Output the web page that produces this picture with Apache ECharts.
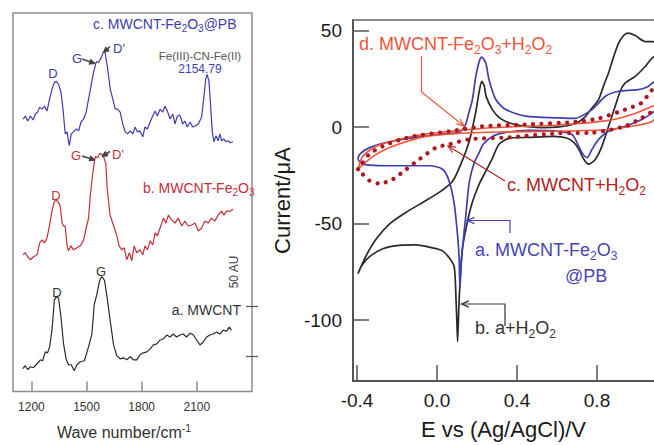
<!DOCTYPE html>
<html><head><meta charset="utf-8">
<script src="https://cdn.jsdelivr.net/npm/echarts@6/dist/echarts.min.js"></script>
<style>html,body{margin:0;padding:0;background:#fff}#c{width:654px;height:445px}</style>
</head><body><div id="c"></div>
<script>
// ---------- Raman spectra (left panel) ----------
const waveTicks = [1200, 1500, 1800, 2100];
const scaleBarTicks = [36, 86];   // 50 AU scale bar

const ramanA_wave = [1153,1167,1180,1195,1212,1231,1249,1261,1276,1288,1299,1312,1325,1336,1348,1361,1375,1390,1402,1417,1433,1448,1466,1488,1511,1529,1542,1556,1571,1584,1598,1614,1632,1647,1665,1683,1701,1719,1737,1755,1773,1791,1809,1828,1846,1864,1882,1900,1918,1936,1954,1972,1990,2008,2026,2044,2063,2081,2099,2117,2135,2153,2171,2189,2207,2225,2243,2262,2276,2289];
const ramanA_int = [23,26,22,25,24,28,32,31,40,39,45,62,92,96,94,75,48,32,27,27,21,27,30,31,45,58,88,98,112,116,112,92,67,47,36,33,34,32,35,32,32,37,39,40,43,47,48,52,53,57,55,58,55,57,58,55,59,57,52,47,50,55,57,58,60,58,62,61,65,62];

const ramanB_wave = [1155,1167,1180,1195,1212,1231,1245,1258,1271,1285,1299,1312,1325,1336,1348,1357,1367,1375,1384,1394,1402,1415,1429,1448,1466,1484,1498,1511,1520,1535,1547,1560,1571,1589,1605,1612,1628,1646,1665,1677,1692,1705,1719,1733,1746,1759,1773,1791,1806,1818,1831,1846,1860,1873,1885,1900,1918,1932,1945,1963,1981,1999,2018,2035,2053,2072,2090,2108,2126,2144,2162,2180,2198,2216,2235,2247,2262,2280,2297];
const ramanB_int = [138,140,136,133,136,138,150,153,150,155,168,182,192,193,191,187,170,167,167,147,142,147,143,145,147,153,165,175,197,222,237,236,240,239,230,205,178,168,157,147,143,145,133,140,132,147,140,143,138,147,143,152,148,160,157,165,175,170,178,173,170,175,167,172,167,168,170,162,165,172,170,175,172,178,182,178,182,182,184];

const ramanC_wave = [1155,1167,1180,1195,1209,1222,1234,1245,1258,1271,1285,1299,1312,1325,1336,1348,1361,1372,1384,1394,1406,1417,1429,1444,1457,1470,1484,1498,1511,1524,1538,1553,1565,1580,1592,1601,1614,1629,1643,1656,1668,1683,1697,1710,1723,1737,1752,1764,1777,1791,1806,1818,1831,1846,1860,1873,1885,1900,1914,1927,1940,1954,1969,1981,1994,2008,2023,2035,2048,2063,2077,2090,2108,2126,2139,2148,2156,2166,2175,2184,2193,2204,2216,2225,2235,2247,2258,2270,2283,2297];
const ramanC_int = [275,278,273,278,274,280,282,287,285,288,283,295,305,312,313,310,302,285,260,262,248,260,262,265,263,272,275,282,295,308,322,333,332,337,343,342,327,305,295,285,285,282,270,262,260,263,260,267,262,263,257,267,265,272,278,283,278,285,282,288,283,275,280,270,278,279,270,273,267,272,267,268,270,277,298,315,320,313,288,262,252,258,253,260,253,255,252,253,251,252];

// ---------- Cyclic voltammograms (right panel) ----------
const potentialTicks = [-0.4, 0.0, 0.4, 0.8];
const currentTicks = [-100, -50, 0, 50];

// b. a+H2O2 (black)
const cvB_E = [-0.395,-0.354,-0.304,-0.238,-0.154,-0.072,0.011,0.078,0.127,0.161,0.181,0.196,0.211,0.224,0.236,0.246,0.277,0.310,0.344,0.410,0.524,0.609,0.692,0.742,0.768,0.808,0.833,0.858,0.883,0.908,0.933,0.953,0.991,1.041,1.077,1.132,1.200,1.132,1.077,1.041,0.991,0.941,0.916,0.891,0.858,0.825,0.792,0.758,0.734,0.709,0.684,0.649,0.584,0.460,0.360,0.310,0.275,0.244,0.211,0.177,0.152,0.127,0.115,0.108,0.103,0.100,0.095,0.086,0.061,0.028,-0.022,-0.105,-0.188,-0.271,-0.337,-0.377,-0.395];
const cvB_I = [-75.9,-66.5,-57.9,-50.2,-44.1,-39.0,-33.8,-28.0,-17.2,-7.4,1.4,9.1,18.4,23.7,21.5,15.8,9.1,5.0,2.9,0.9,-0.2,0.1,1.9,5.5,9.1,14.3,21.5,28.2,36.4,43.5,47.5,48.7,47.5,44.3,44.3,42.6,40.0,38.5,35.9,31.4,26.3,22.9,18.6,10.8,0.5,-9.8,-16.6,-19.2,-16.6,-11.5,-7.9,-5.6,-4.8,-5.3,-5.8,-8.9,-16.6,-22.8,-29.5,-38.8,-49.1,-63.0,-80.1,-97.1,-111.0,-102.6,-88.8,-72.3,-67.7,-64.1,-62.5,-61.0,-61.2,-63.0,-67.1,-71.8,-75.9];

// a. MWCNT-Fe2O3@PB (blue)
const cvA_E = [-0.395,-0.387,-0.337,-0.221,-0.055,0.061,0.111,0.141,0.161,0.177,0.194,0.211,0.224,0.244,0.260,0.294,0.344,0.443,0.609,0.684,0.775,0.842,0.908,1.007,1.056,1.076,1.132,1.200,1.132,1.076,1.024,0.941,0.858,0.808,0.775,0.750,0.725,0.700,0.675,0.609,0.460,0.344,0.277,0.231,0.211,0.186,0.161,0.144,0.127,0.119,0.115,0.112,0.111,0.103,0.086,0.061,0.028,-0.038,-0.138,-0.238,-0.337,-0.377,-0.395];
const cvA_I = [-16.6,-14.1,-10.6,-7.2,-4.6,-3.2,-2.7,0.9,8.1,14.3,26.3,34.0,36.3,33.2,24.6,14.3,9.1,5.7,4.8,4.5,9.1,16.0,18.6,19.4,21.1,22.9,25.6,28.7,12.2,7.4,4.0,0.5,-2.1,-6.3,-11.5,-15.8,-13.2,-8.0,-3.8,-2.2,-1.7,-2.7,-4.8,-8.9,-13.2,-18.4,-28.7,-45.9,-63.0,-74.4,-83.7,-74.4,-68.2,-56.2,-39.8,-28.0,-21.8,-20.0,-20.0,-20.0,-19.7,-19.0,-16.6];

// c. MWCNT+H2O2 (dark red, dotted)
const cvC_E = [-0.395,-0.377,-0.337,-0.271,-0.188,-0.105,0.061,0.227,0.443,0.692,0.808,0.941,1.024,1.057,1.077,1.132,1.200,1.132,1.066,1.024,0.941,0.775,0.609,0.360,0.161,0.061,-0.005,-0.088,-0.154,-0.221,-0.287,-0.337,-0.387,-0.395];
const cvC_I = [-21.8,-19.2,-13.8,-9.9,-6.6,-4.5,-2.2,0.4,1.4,2.7,4.5,9.1,12.6,16.9,19.4,22.5,26.6,12.2,7.4,4.8,0.5,-2.9,-3.2,-5.3,-6.3,-8.9,-10.6,-16.6,-21.8,-27.0,-29.2,-27.8,-22.7,-21.8];

// d. MWCNT-Fe2O3+H2O2 (orange-red)
const cvD_E = [-0.395,-0.371,-0.304,-0.188,-0.055,0.111,0.277,0.609,0.858,0.974,1.077,1.200,1.077,1.024,0.858,0.609,0.310,0.111,-0.055,-0.221,-0.312,-0.387,-0.395];
const cvD_I = [-21.8,-15.1,-9.9,-6.3,-3.5,-1.7,-0.3,1.1,3.5,6.5,10.8,16.3,3.1,1.4,-1.2,-2.1,-2.5,-3.2,-4.8,-9.9,-14.6,-20.8,-21.8];

// ---------- helpers ----------
const FONT = '"Liberation Sans", Arial, sans-serif';
function zip(a, b) { const n = Math.min(a.length, b.length); const r = []; for (let i = 0; i < n; i++) r.push([a[i], b[i]]); return r; }

function chemStyle(str, size, color) {
  let out = '';
  for (let i = 0; i < str.length; i++) {
    if (str[i] === '_') { out += '{s|' + str[i + 1] + '}'; i++; }
    else { let j = i; while (j < str.length && str[j] !== '_') j++; out += '{n|' + str.slice(i, j) + '}'; i = j - 1; }
  }
  return {
    text: out,
    rich: {
      n: { fontSize: size, fill: color, fontFamily: FONT, lineHeight: Math.round(size * 1.25), verticalAlign: 'middle' },
      s: { fontSize: Math.round(size * 0.68), fill: color, fontFamily: FONT, lineHeight: Math.round(size * 0.7), verticalAlign: 'bottom' }
    }
  };
}
function label(str, x, y, size, color, align, rot) {
  const st = chemStyle(str, size, color);
  return { type: 'text', x: x, y: y, rotation: rot || 0, z: 100,
    style: { text: st.text, rich: st.rich, fill: color, fontSize: size, fontFamily: FONT, align: align || 'left', verticalAlign: 'middle' } };
}
function arrow(pts, color, width, filled) {
  const els = [];
  els.push({ type: 'polyline', z: 100, shape: { points: pts }, style: { stroke: color, lineWidth: width, fill: null } });
  const p1 = pts[pts.length - 2], p2 = pts[pts.length - 1];
  const ang = Math.atan2(p2[1] - p1[1], p2[0] - p1[0]);
  const L = filled ? 6 : 8, a = filled ? 0.45 : 0.4;
  const h1 = [p2[0] - L * Math.cos(ang - a), p2[1] - L * Math.sin(ang - a)];
  const h2 = [p2[0] - L * Math.cos(ang + a), p2[1] - L * Math.sin(ang + a)];
  if (filled) els.push({ type: 'polygon', z: 100, shape: { points: [h1, p2, h2] }, style: { fill: color, stroke: color, lineWidth: 1 } });
  else els.push({ type: 'polyline', z: 100, shape: { points: [h1, p2, h2] }, style: { stroke: color, lineWidth: width, fill: null } });
  return els;
}

const BLUE = '#3d3db0', RED = '#c2303a', DARK = '#333333', GRAY = '#555555';
const CV_BLACK = '#2a2a2a', CV_BLUE = '#3f3fb2', CV_DOT = '#b0141c', CV_ORANGE = '#f0553a';

const chart = echarts.init(document.getElementById('c'), null, { renderer: 'svg' });

const graphics = [].concat(
  // left panel labels
  [label('c. MWCNT-Fe_2O_3@PB', 93, 24, 14, BLUE, 'left'),
   label('D', 53, 73, 13, BLUE, 'center'),
   label('G', 77, 58, 13, BLUE, 'center'),
   label("D'", 119, 48, 13, BLUE, 'center'),
   label('Fe(III)-CN-Fe(II)', 200, 55.5, 11.5, GRAY, 'center'),
   label('2154.79', 200, 69, 12, BLUE, 'center'),
   label('G', 76, 155, 13, RED, 'center'),
   label("D'", 118, 154, 13, RED, 'center'),
   label('D', 56, 195, 13, RED, 'center'),
   label('b. MWCNT-Fe_2O_3', 143, 188, 14, RED, 'left'),
   label('D', 57, 292, 13, DARK, 'center'),
   label('G', 101, 271, 13, DARK, 'center'),
   label('a. MWCNT', 241, 310, 14, DARK, 'right'),
   label('50 AU', 234, 272, 12, '#444', 'center', Math.PI / 2)],
  arrow([[82, 59], [95, 63.5]], '#444', 1.5, true),
  arrow([[110, 46.5], [103.5, 52.5]], '#444', 1.5, true),
  arrow([[82, 156], [95, 160]], '#444', 1.5, true),
  arrow([[110, 151.5], [102, 156.5]], '#444', 1.5, true),
  // right panel labels
  [label('d. MWCNT-Fe_2O_3+H_2O_2', 359, 44, 18, CV_ORANGE, 'left'),
   label('c. MWCNT+H_2O_2', 507, 185, 18, '#b52020', 'left'),
   label('a. MWCNT-Fe_2O_3', 475, 250, 18, '#4545b5', 'left'),
   label('@PB', 565, 276, 18, '#4545b5', 'left'),
   label('b. a+H_2O_2', 475, 328, 18, DARK, 'left')],
  arrow([[421.5, 56], [421.5, 92], [464, 126]], CV_ORANGE, 1.2, false),
  arrow([[505, 181], [448, 146]], '#b52020', 1.2, false),
  arrow([[510, 233], [510, 220.5], [467, 220.5]], '#4545b5', 1.2, false),
  arrow([[505, 326], [505, 304], [461.5, 304]], DARK, 1.2, false)
);

const option = {
  animation: false,
  backgroundColor: '#ffffff',
  textStyle: { fontFamily: FONT },
  grid: [
    { left: 13, top: 13, width: 239, height: 382, show: true, borderColor: '#8c8c8c', borderWidth: 1.5, backgroundColor: 'transparent' },
    { left: 353, top: 20, width: 301, height: 363 }
  ],
  xAxis: [
    { gridIndex: 0, type: 'value', min: 1100, max: 2400,
      name: '{n|Wave number/cm}{p|-1}', nameLocation: 'middle', nameGap: 31,
      nameTextStyle: { padding: [0, 17, 0, 0], rich: {
        n: { fontSize: 16, color: DARK, fontFamily: FONT, lineHeight: 19, verticalAlign: 'middle' },
        p: { fontSize: 10.5, color: DARK, fontFamily: FONT, lineHeight: 10, verticalAlign: 'top' } } },
      axisLine: { show: false, onZero: false },
      axisTick: { show: true, inside: true, length: 10, customValues: waveTicks, lineStyle: { color: '#8c8c8c', width: 1.5 } },
      axisLabel: { customValues: waveTicks, fontSize: 12, color: DARK, margin: 9, fontFamily: FONT, formatter: v => String(v) },
      splitLine: { show: false } },
    { gridIndex: 1, type: 'value', min: -0.42, max: 1.085, position: 'bottom',
      name: 'E vs (Ag/AgCl)/V', nameLocation: 'middle', nameGap: 37,
      nameTextStyle: { fontSize: 22, color: '#1a1a1a', fontFamily: FONT },
      axisLine: { show: true, onZero: false, lineStyle: { color: '#555', width: 2 } },
      axisTick: { show: true, inside: true, length: 16, customValues: potentialTicks, lineStyle: { color: '#555', width: 1.5 } },
      axisLabel: { customValues: potentialTicks, fontSize: 19, color: '#1a1a1a', margin: 10, fontFamily: FONT, formatter: v => v.toFixed(1) },
      splitLine: { show: false } },
    { gridIndex: 1, type: 'value', min: -0.42, max: 1.085, position: 'top',
      axisLine: { show: true, onZero: false, lineStyle: { color: '#666', width: 1.5 } },
      axisTick: { show: false }, axisLabel: { show: false }, splitLine: { show: false } }
  ],
  yAxis: [
    { gridIndex: 0, type: 'value', min: 0, max: 382, show: false, axisLine: { onZero: false } },
    { gridIndex: 0, type: 'value', min: 0, max: 382, position: 'right', offset: -6,
      axisLine: { show: false, onZero: false },
      axisTick: { show: true, inside: false, length: 12, customValues: scaleBarTicks, lineStyle: { color: '#555', width: 1.2 } },
      axisLabel: { show: false }, splitLine: { show: false } },
    { gridIndex: 1, type: 'value', min: -131.5, max: 55.5, position: 'left',
      name: 'Current/μA', nameLocation: 'middle', nameGap: 60, nameRotate: 90,
      nameTextStyle: { fontSize: 22, color: '#1a1a1a', fontFamily: FONT },
      axisLine: { show: true, onZero: false, lineStyle: { color: '#555', width: 2 } },
      axisTick: { show: true, inside: true, length: 16, customValues: currentTicks, lineStyle: { color: '#555', width: 1.5 } },
      axisLabel: { customValues: currentTicks, fontSize: 19, color: '#1a1a1a', margin: 11, fontFamily: FONT },
      splitLine: { show: false } }
  ],
  series: [
    { name: 'a. MWCNT', type: 'line', xAxisIndex: 0, yAxisIndex: 0, data: zip(ramanA_wave, ramanA_int), showSymbol: false, lineStyle: { color: '#2b2b2b', width: 1.2 } },
    { name: 'b. MWCNT-Fe2O3', type: 'line', xAxisIndex: 0, yAxisIndex: 0, data: zip(ramanB_wave, ramanB_int), showSymbol: false, lineStyle: { color: RED, width: 1.2 } },
    { name: 'c. MWCNT-Fe2O3@PB', type: 'line', xAxisIndex: 0, yAxisIndex: 0, data: zip(ramanC_wave, ramanC_int), showSymbol: false, lineStyle: { color: BLUE, width: 1.2 } },
    { name: 'b. a+H2O2', type: 'line', xAxisIndex: 1, yAxisIndex: 2, data: zip(cvB_E, cvB_I), showSymbol: false, smooth: 0.25, lineStyle: { color: CV_BLACK, width: 1.7 } },
    { name: 'a. MWCNT-Fe2O3@PB', type: 'line', xAxisIndex: 1, yAxisIndex: 2, data: zip(cvA_E, cvA_I), showSymbol: false, smooth: 0.25, lineStyle: { color: CV_BLUE, width: 1.7 } },
    { name: 'd. MWCNT-Fe2O3+H2O2', type: 'line', xAxisIndex: 1, yAxisIndex: 2, data: zip(cvD_E, cvD_I), showSymbol: false, smooth: 0.25, lineStyle: { color: CV_ORANGE, width: 1.6 } },
    { name: 'c. MWCNT+H2O2', type: 'line', xAxisIndex: 1, yAxisIndex: 2, data: zip(cvC_E, cvC_I), showSymbol: false, smooth: 0.25, lineStyle: { color: CV_DOT, width: 4.2, type: [0.01, 8.5], cap: 'round' } }
  ],
  graphic: graphics
};
chart.setOption(option);
</script></body></html>
